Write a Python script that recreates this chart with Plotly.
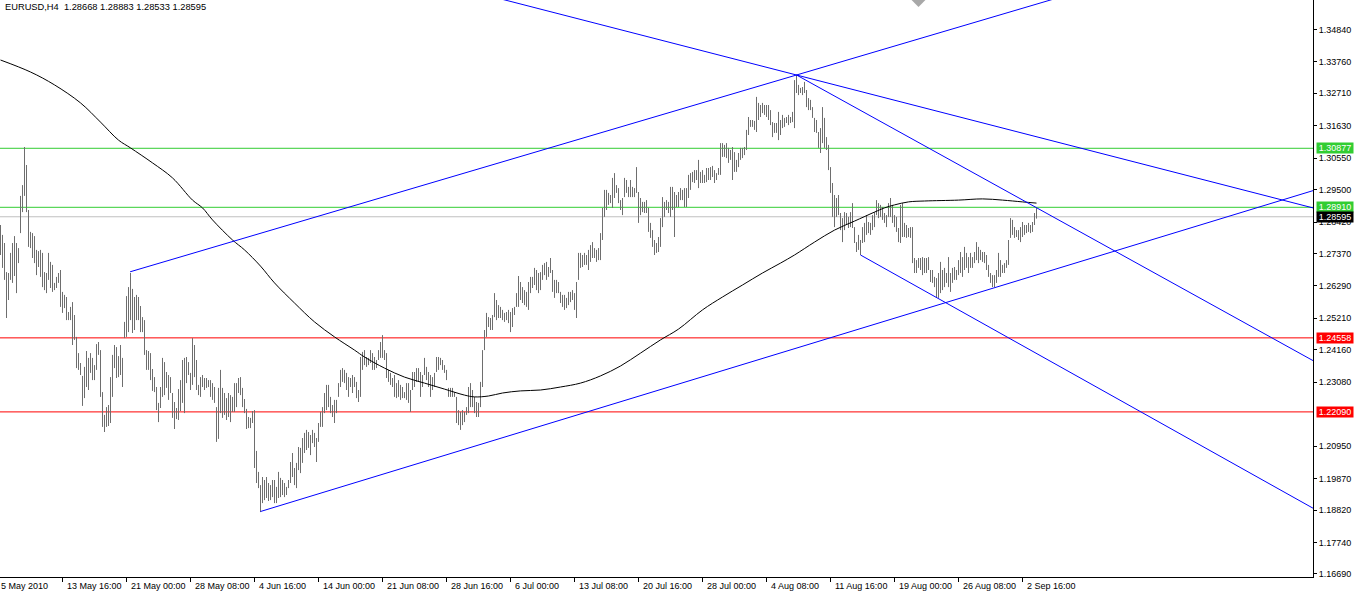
import plotly.graph_objects as go

# ---------------- data ----------------
title_text = "EURUSD,H4  1.28668 1.28883 1.28533 1.28595"

highs = [
1.2832,1.2799,1.2772,1.2675,1.2672,1.2739,1.2772,1.2795,1.2772,1.2755,
1.2929,1.2965,1.3092,1.3032,1.2882,1.2809,1.2805,1.2795,1.2749,1.2745,
1.2749,1.2739,1.2675,1.2672,1.2739,1.2709,1.2699,1.2639,1.2659,1.2672,
1.2682,1.2609,1.2599,1.2592,1.2542,1.2559,1.2575,1.2532,1.2459,1.2405,
1.2372,1.2329,1.2359,1.2412,1.2389,1.2405,1.2389,1.2365,1.2435,1.2442,
1.2415,1.2275,1.2199,1.2225,1.2232,1.2325,1.2399,1.2432,1.2425,1.2395,
1.2432,1.2389,1.2509,1.2595,1.2625,1.2672,1.2619,1.2592,1.2599,1.2592,
1.2562,1.2525,1.2515,1.2415,1.2412,1.2405,1.2352,1.2325,1.2292,1.2239,
1.2292,1.2389,1.2375,1.2342,1.2332,1.2325,1.2272,1.2242,1.2222,1.2285,
1.2315,1.2382,1.2389,1.2392,1.2375,1.2339,1.2455,1.2432,1.2382,1.2299,
1.2325,1.2332,1.2322,1.2322,1.2315,1.2315,1.2305,1.2292,1.2225,1.2289,
1.2349,1.2289,1.2272,1.2255,1.2272,1.2265,1.2259,1.2305,1.2305,1.2322,
1.2325,1.2289,1.2252,1.2219,1.2192,1.2189,1.2212,1.2215,1.2079,1.2009,
1.1965,1.1992,1.1982,1.1992,1.1972,1.1965,1.1982,1.1982,1.1959,1.2009,
1.1989,1.1982,1.1972,1.1959,1.1982,1.2042,1.2072,1.2022,1.2039,1.2092,
1.2089,1.2122,1.2139,1.2149,1.2142,1.2132,1.2149,1.2139,1.2122,1.2172,
1.2209,1.2225,1.2272,1.2299,1.2299,1.2259,1.2232,1.2249,1.2249,1.2305,
1.2349,1.2355,1.2349,1.2339,1.2325,1.2322,1.2332,1.2325,1.2309,1.2282,
1.2392,1.2409,1.2415,1.2392,1.2389,1.2415,1.2405,1.2392,1.2382,1.2415,
1.2442,1.2465,1.2415,1.2405,1.2349,1.2339,1.2322,1.2332,1.2305,1.2315,
1.2299,1.2292,1.2275,1.2305,1.2305,1.2282,1.2342,1.2342,1.2355,1.2355,
1.2342,1.2332,1.2389,1.2359,1.2342,1.2332,1.2325,1.2339,1.2392,1.2392,
1.2389,1.2382,1.2365,1.2349,1.2289,1.2289,1.2289,1.2275,1.2259,1.2215,
1.2209,1.2215,1.2209,1.2225,1.2292,1.2305,1.2282,1.2259,1.2242,1.2239,
1.2309,1.2415,1.2482,1.2539,1.2525,1.2522,1.2532,1.2605,1.2582,1.2565,
1.2559,1.2549,1.2539,1.2542,1.2549,1.2542,1.2555,1.2559,1.2605,
1.2662,1.2642,1.2625,1.2615,1.2609,1.2642,1.2659,1.2659,1.2689,1.2682,
1.2672,1.2675,1.2699,1.2705,1.2709,1.2692,1.2722,1.2682,1.2649,1.2649,
1.2642,1.2609,1.2599,1.2599,1.2589,1.2609,1.2609,1.2615,1.2605,1.2642,
1.2739,1.2739,1.2732,1.2739,1.2732,1.2749,1.2765,1.2775,1.2755,1.2749,
1.2755,1.2805,1.2889,1.2949,1.2949,1.2939,1.2932,1.2989,1.3005,1.2965,
1.2955,1.2915,1.2922,1.2989,1.2982,1.2959,1.2982,1.2959,1.2955,1.3025,
1.2942,1.2922,1.2909,1.2909,1.2915,1.2889,1.2839,1.2815,1.2782,1.2772,
1.2792,1.2855,1.2925,1.2909,1.2915,1.2909,1.2959,1.2959,1.2942,1.2932,
1.2942,1.2955,1.2949,1.2955,1.2955,1.2999,1.3005,1.3009,1.3015,1.3015,
1.3049,1.3009,1.3015,1.2999,1.3022,1.3022,1.3025,1.3029,1.3015,1.3005,
1.3022,1.3105,1.3105,1.3099,1.3105,1.3089,1.3082,1.3092,1.3075,1.3049,
1.3072,1.3089,1.3089,1.3092,1.3149,1.3192,1.3182,1.3182,1.3179,1.3259,
1.3239,1.3232,1.3239,1.3232,1.3232,1.3232,1.3215,1.3175,1.3172,1.3172,
1.3209,1.3182,1.3199,1.3189,1.3192,1.3199,1.3192,1.3209,1.3315,1.3332,
1.3299,1.3289,1.3292,1.3309,1.3282,1.3255,1.3249,1.3225,1.3189,1.3182,
1.3142,1.3155,1.3225,1.3189,1.3125,1.3099,1.3025,1.2972,1.2932,1.2922,
1.2932,1.2872,1.2855,1.2875,1.2872,1.2859,1.2875,1.2905,1.2825,1.2775,
1.2799,1.2782,1.2825,1.2839,1.2865,1.2842,1.2839,1.2865,1.2875,1.2915,
1.2905,1.2899,1.2892,1.2872,1.2865,1.2905,1.2922,1.2899,1.2865,1.2859,
1.2822,1.2899,1.2905,1.2839,1.2832,1.2822,1.2825,1.2825,1.2722,1.2715,
1.2722,1.2722,1.2725,1.2722,1.2722,1.2725,1.2682,1.2682,1.2659,1.2655,
1.2672,1.2709,1.2682,1.2689,1.2672,1.2725,1.2672,1.2689,1.2692,1.2682,
1.2715,1.2742,1.2725,1.2759,1.2739,1.2725,1.2739,1.2725,1.2742,1.2775,
1.2759,1.2749,1.2742,1.2742,1.2732,1.2699,1.2672,1.2665,1.2665,1.2682,
1.2739,1.2715,1.2699,1.2705,1.2715,1.2782,1.2855,1.2849,1.2825,1.2815,
1.2815,1.2825,1.2842,1.2832,1.2832,1.2839,1.2832,1.2842,1.2872,1.28883,
]

lows = [
1.2732,1.2689,1.2649,1.2522,1.2582,1.2649,1.2639,1.2662,1.2605,1.2705,
1.2805,1.2875,1.2929,1.2875,1.2759,1.2755,1.2722,1.2705,1.2665,1.2692,
1.2659,1.2625,1.2615,1.2605,1.2649,1.2622,1.2609,1.2615,1.2622,1.2639,
1.2559,1.2539,1.2555,1.2515,1.2515,1.2515,1.2432,1.2449,1.2355,1.2349,
1.2332,1.2229,1.2255,1.2292,1.2282,1.2339,1.2315,1.2315,1.2349,1.2399,
1.2259,1.2159,1.2142,1.2159,1.2162,1.2172,1.2259,1.2355,1.2322,1.2325,
1.2332,1.2292,1.2455,1.2459,1.2475,1.2515,1.2472,1.2482,1.2515,1.2515,
1.2475,1.2475,1.2399,1.2349,1.2349,1.2315,1.2279,1.2275,1.2215,1.2175,
1.2222,1.2259,1.2265,1.2289,1.2249,1.2272,1.2189,1.2152,1.2185,1.2182,
1.2212,1.2239,1.2205,1.2305,1.2332,1.2282,1.2299,1.2325,1.2282,1.2265,
1.2259,1.2292,1.2282,1.2289,1.2292,1.2259,1.2249,1.2239,1.2109,1.2119,
1.2205,1.2189,1.2199,1.2182,1.2192,1.2175,1.2209,1.2209,1.2225,1.2272,
1.2265,1.2225,1.2205,1.2152,1.2155,1.2155,1.2172,1.2022,1.1972,1.1955,
1.1875,1.1905,1.1915,1.1922,1.1912,1.1915,1.1925,1.1905,1.1905,1.1922,
1.1925,1.1932,1.1925,1.1932,1.1955,1.1972,1.1992,1.1965,1.1955,1.2015,
1.2005,1.2039,1.2072,1.2082,1.2089,1.2065,1.2105,1.2092,1.2042,1.2109,
1.2159,1.2159,1.2205,1.2215,1.2225,1.2205,1.2192,1.2172,1.2205,1.2259,
1.2292,1.2309,1.2305,1.2282,1.2259,1.2292,1.2272,1.2292,1.2255,1.2242,
1.2259,1.2349,1.2365,1.2359,1.2365,1.2372,1.2349,1.2349,1.2355,1.2382,
1.2389,1.2389,1.2382,1.2322,1.2309,1.2299,1.2292,1.2259,1.2255,1.2259,
1.2249,1.2255,1.2255,1.2249,1.2239,1.2209,1.2282,1.2292,1.2309,1.2309,
1.2259,1.2292,1.2332,1.2315,1.2292,1.2259,1.2282,1.2292,1.2342,1.2349,
1.2365,1.2349,1.2339,1.2315,1.2259,1.2259,1.2259,1.2259,1.2172,1.2165,
1.2149,1.2165,1.2175,1.2199,1.2205,1.2225,1.2225,1.2205,1.2192,1.2192,
1.2225,1.2292,1.2415,1.2459,1.2492,1.2482,1.2482,1.2525,1.2515,1.2522,
1.2522,1.2515,1.2509,1.2515,1.2505,1.2475,1.2492,1.2532,1.2559,
1.2559,1.2582,1.2572,1.2565,1.2559,1.2549,1.2605,1.2622,1.2632,1.2615,
1.2605,1.2615,1.2649,1.2665,1.2649,1.2659,1.2672,1.2609,1.2589,1.2605,
1.2605,1.2572,1.2559,1.2549,1.2555,1.2565,1.2575,1.2582,1.2549,1.2522,
1.2649,1.2689,1.2692,1.2699,1.2699,1.2682,1.2709,1.2722,1.2722,1.2709,
1.2715,1.2715,1.2782,1.2859,1.2882,1.2899,1.2905,1.2889,1.2922,1.2939,
1.2905,1.2882,1.2865,1.2925,1.2939,1.2925,1.2925,1.2925,1.2925,1.2939,
1.2839,1.2865,1.2875,1.2872,1.2872,1.2809,1.2789,1.2759,1.2732,1.2739,
1.2742,1.2759,1.2825,1.2859,1.2882,1.2872,1.2859,1.2882,1.2792,1.2892,
1.2892,1.2915,1.2915,1.2892,1.2892,1.2922,1.2949,1.2975,1.2972,1.2982,
1.2955,1.2972,1.2972,1.2972,1.2975,1.2982,1.2982,1.2992,1.2972,1.2982,
1.2999,1.2999,1.3059,1.3059,1.3055,1.3039,1.3049,1.2982,1.3009,1.3009,
1.3025,1.3049,1.3055,1.3065,1.3082,1.3132,1.3159,1.3159,1.3149,1.3142,
1.3182,1.3192,1.3205,1.3199,1.3192,1.3182,1.3165,1.3125,1.3139,1.3139,
1.3115,1.3132,1.3155,1.3159,1.3172,1.3165,1.3172,1.3175,1.3155,1.3272,
1.3265,1.3272,1.3265,1.3272,1.3225,1.3215,1.3215,1.3189,1.3142,1.3139,
1.3089,1.3072,1.3105,1.3089,1.3082,1.3015,1.2939,1.2859,1.2825,1.2859,
1.2865,1.2815,1.2775,1.2815,1.2832,1.2822,1.2825,1.2822,1.2772,1.2742,
1.2749,1.2732,1.2772,1.2775,1.2799,1.2805,1.2799,1.2815,1.2825,1.2865,
1.2855,1.2859,1.2849,1.2839,1.2825,1.2859,1.2859,1.2839,1.2825,1.2809,
1.2775,1.2772,1.2792,1.2792,1.2789,1.2792,1.2789,1.2705,1.2672,1.2672,
1.2689,1.2682,1.2665,1.2672,1.2672,1.2682,1.2642,1.2639,1.2625,1.2592,
1.2589,1.2605,1.2615,1.2625,1.2639,1.2625,1.2609,1.2639,1.2649,1.2649,
1.2665,1.2672,1.2659,1.2682,1.2689,1.2672,1.2689,1.2689,1.2705,1.2715,
1.2705,1.2715,1.2709,1.2705,1.2682,1.2659,1.2639,1.2625,1.2625,1.2639,
1.2659,1.2659,1.2672,1.2672,1.2689,1.2699,1.2789,1.2799,1.2789,1.2792,
1.2782,1.2775,1.2792,1.2799,1.2805,1.2809,1.2805,1.2809,1.2832,1.28533,
]

# moving average (bar index, value)
ma_idx = [0, 15, 27, 40, 50, 59, 65, 76, 86, 96, 101, 106, 116, 122, 130, 137, 147, 157, 167, 177,
          182, 192, 202, 212, 222, 232, 237, 244, 251, 260, 270, 280, 290, 300, 310, 320, 330, 339,
          351, 361, 371, 381, 390, 397, 407, 417, 427, 437, 442, 447, 454, 462, 479, 491, 501, 511, 518]
ma_val = [1.3382, 1.3342, 1.3299, 1.3239, 1.3175, 1.3115, 1.3089, 1.3039, 1.2989, 1.2915, 1.2889,
          1.2849, 1.2782, 1.2749, 1.2695, 1.2639, 1.2572, 1.2509, 1.2459, 1.2415, 1.2392, 1.2355,
          1.2325, 1.2305, 1.2285, 1.2265, 1.2259, 1.2262, 1.2272, 1.2279, 1.2282, 1.2292, 1.2305,
          1.2329, 1.2362, 1.2405, 1.2449, 1.2485, 1.2549, 1.2592, 1.2632, 1.2672, 1.2705, 1.2732,
          1.2775, 1.2815, 1.2845, 1.2875, 1.2889, 1.2899, 1.2909, 1.2912, 1.2915, 1.2919, 1.2915,
          1.2909, 1.2905]

# trend lines: two anchor points (bar index, price)
trend_lines = [
    ((64.8, 1.2676), (398, 1.3332), False),   # channel upper (ray right)
    ((130, 1.1877), (500, 1.2629), False),    # channel lower (ray right)
    ((398, 1.3332), (656.25, 1.2889), True),  # gentle descending (extended both ways)
    ((398, 1.3332), (656.25, 1.2380), False), # steep descending from peak
    ((430, 1.2732), (656.25, 1.1888), False), # parallel descending
]

# horizontal levels
levels = [1.30877, 1.28910, 1.28595, 1.24558, 1.22090]
level_colors = ["#32CD32", "#32CD32", "#C0C0C0", "#FF0000", "#FF0000"]
level_label_bg = ["#32CD32", "#32CD32", "#000000", "#FF0000", "#FF0000"]
level_labels = ["1.30877", "1.28910", "1.28595", "1.24558", "1.22090"]

y_ticks = [1.3484, 1.3376, 1.3271, 1.3163, 1.3055, 1.2950, 1.2842, 1.2737, 1.2629, 1.2521,
           1.2416, 1.2308, 1.2095, 1.1987, 1.1882, 1.1774, 1.1669]
y_ticktext = ["%.5f" % v for v in y_ticks]

x_tick_idx = [31, 63, 95, 127, 159, 191, 223, 255, 287, 319, 351, 383, 415, 447, 479, 511]
x_tick_text = ["13 May 16:00", "21 May 00:00", "28 May 08:00", "4 Jun 16:00", "14 Jun 00:00",
               "21 Jun 08:00", "28 Jun 16:00", "6 Jul 00:00", "13 Jul 08:00", "20 Jul 16:00",
               "28 Jul 00:00", "4 Aug 08:00", "11 Aug 16:00", "19 Aug 00:00", "26 Aug 08:00",
               "2 Sep 16:00"]
first_date_label = "5 May 2010"

# ---------------- figure ----------------
FONT = "Liberation Sans"
X_MIN, X_MAX = -0.25, 656.25
Y_MIN, Y_MAX = 1.165867, 1.3582

fig = go.Figure()

# horizontal level lines (behind bars)
for lv, col in zip(levels, level_colors):
    fig.add_trace(go.Scatter(x=[X_MIN, X_MAX], y=[lv, lv], mode="lines",
                             line=dict(color=col, width=1), hoverinfo="skip", showlegend=False))

# price bars (high-low)
bx, by = [], []
for i, (h, l) in enumerate(zip(highs, lows)):
    bx += [i, i, None]
    by += [l, h, None]
fig.add_trace(go.Scatter(x=bx, y=by, mode="lines", line=dict(color="#6E6E6E", width=1),
                         hoverinfo="skip", showlegend=False))

# moving average
fig.add_trace(go.Scatter(x=ma_idx, y=ma_val, mode="lines", line=dict(color="#000000", width=1),
                         line_shape="spline", hoverinfo="skip", showlegend=False))

# trend lines
for (i1, p1), (i2, p2), both in trend_lines:
    slope = (p2 - p1) / (i2 - i1)
    xs = i1 if not both else 200
    ys = p1 + slope * (xs - i1)
    xe = X_MAX
    ye = p1 + slope * (xe - i1)
    fig.add_trace(go.Scatter(x=[xs, xe], y=[ys, ye], mode="lines",
                             line=dict(color="#0000FF", width=1), hoverinfo="skip", showlegend=False))

# arrow object at top edge
fig.add_trace(go.Scatter(x=[459], y=[1.3587], mode="markers",
                         marker=dict(symbol="diamond", size=13, color="#A8A8A8"),
                         hoverinfo="skip", showlegend=False))

annotations = []
# price labels on right axis
for lv, bg, txt in zip(levels, level_label_bg, level_labels):
    annotations.append(dict(x=1, xref="paper", y=lv, yref="y", xanchor="left", yanchor="middle",
                            xshift=3, text=txt, showarrow=False, bgcolor=bg,
                            font=dict(family=FONT, size=9, color="white"),
                            width=36, height=10, borderpad=0, align="center"))
# date labels
for xi, txt in zip(x_tick_idx, x_tick_text):
    annotations.append(dict(x=xi, xref="x", y=0, yref="paper", xanchor="left", yanchor="middle",
                            xshift=2, yshift=-9, text=txt, showarrow=False,
                            font=dict(family=FONT, size=9, color="black")))
annotations.append(dict(x=0, xref="paper", y=0, yref="paper", xanchor="left", yanchor="middle",
                        xshift=-1, yshift=-9, text=first_date_label, showarrow=False,
                        font=dict(family=FONT, size=9, color="black")))
# title
annotations.append(dict(x=0, xref="paper", y=1, yref="paper", xanchor="left", yanchor="middle",
                        xshift=3, yshift=-7, text=title_text, showarrow=False,
                        font=dict(family=FONT, size=9.3, color="black")))

fig.update_layout(
    width=1354, height=597,
    margin=dict(l=0, r=41, t=0, b=20, autoexpand=False),
    paper_bgcolor="white", plot_bgcolor="white",
    showlegend=False,
    annotations=annotations,
    xaxis=dict(range=[X_MIN, X_MAX], showgrid=False, zeroline=False, showline=True,
               linecolor="black", linewidth=1, ticks="outside", ticklen=4, tickcolor="black",
               tickvals=x_tick_idx, showticklabels=False, fixedrange=True),
    yaxis=dict(range=[Y_MIN, Y_MAX], side="right", showgrid=False, zeroline=False, showline=True,
               linecolor="black", linewidth=1, ticks="outside", ticklen=3, tickcolor="black",
               tickvals=y_ticks, ticktext=y_ticktext,
               tickfont=dict(family=FONT, size=9, color="black"), fixedrange=True),
)

fig.write_html("out.html", config={"displayModeBar": False},
               post_script="document.body.style.margin='0px';document.body.style.overflow='hidden';")
